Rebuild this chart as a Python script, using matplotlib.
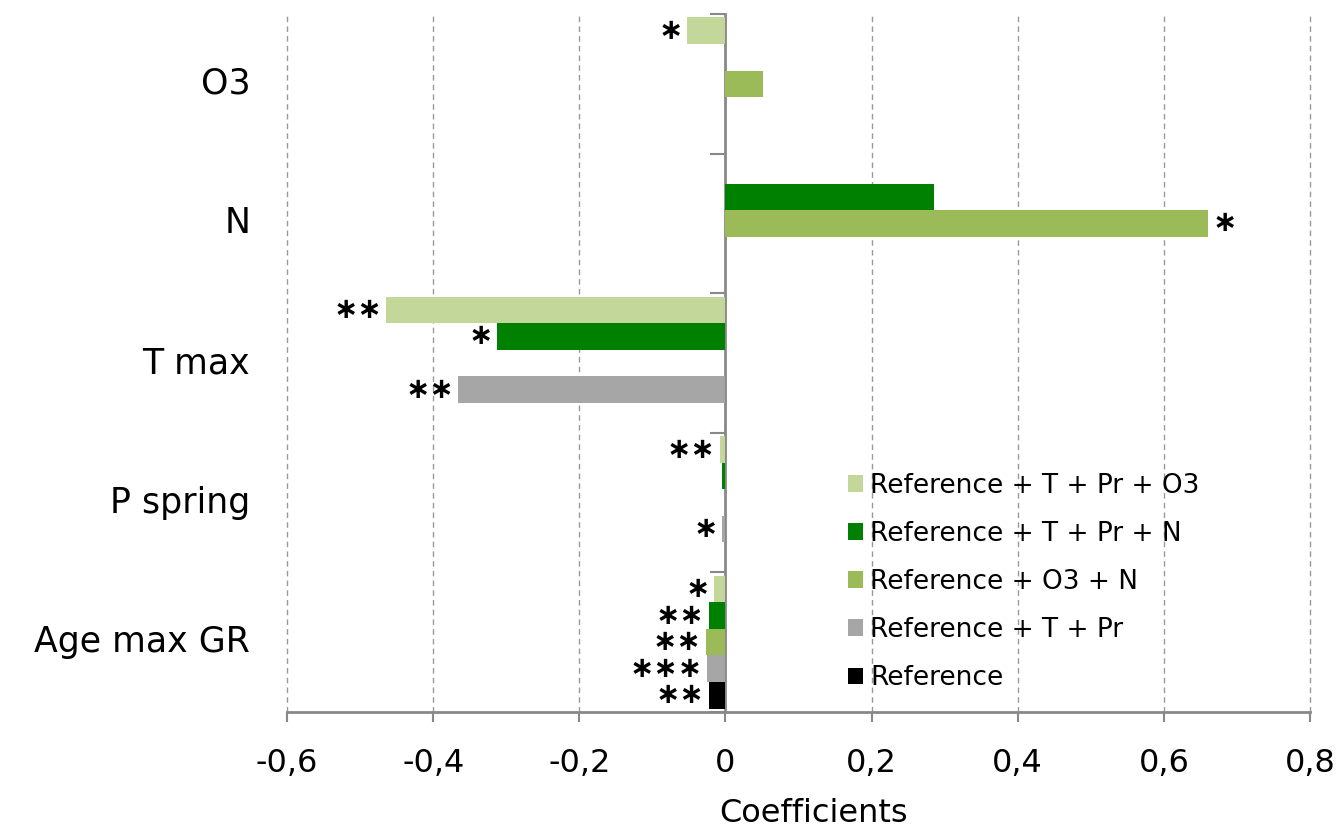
import numpy as np
import matplotlib
matplotlib.use("Agg")
import matplotlib.pyplot as plt
from matplotlib.ticker import FuncFormatter

plt.rcParams['font.family'] = ['DejaVu Sans']

categories = ["O3", "N", "T max", "P spring", "Age max GR"]
series = ["Reference + T + Pr + O3", "Reference + T + Pr + N",
          "Reference + O3 + N", "Reference + T + Pr", "Reference"]
colors = ["#c4d79b", "#008000", "#9bbb59", "#a6a6a6", "#000000"]

nan = np.nan
ref_t_pr_o3 = [-0.052, nan, -0.464, -0.008, -0.015]
ref_t_pr_n = [nan, 0.285, -0.312, -0.005, -0.023]
ref_o3_n = [0.051, 0.661, nan, nan, -0.027]
ref_t_pr = [nan, nan, -0.366, -0.005, -0.025]
ref = [nan, nan, nan, nan, -0.023]
values = [ref_t_pr_o3, ref_t_pr_n, ref_o3_n, ref_t_pr, ref]

stars_t_pr_o3 = ["*", "", "**", "**", "*"]
stars_t_pr_n = ["", "", "*", "", "**"]
stars_o3_n = ["", "*", "", "", "**"]
stars_t_pr = ["", "", "**", "*", "***"]
stars_ref = ["", "", "", "", "**"]
stars = [stars_t_pr_o3, stars_t_pr_n, stars_o3_n, stars_t_pr, stars_ref]

fig = plt.figure(figsize=(13.4, 8.32), dpi=100)
ax = fig.add_axes([0.2142, 0.1442, 0.7634, 0.839])

bar_h = 0.19
y = np.arange(len(categories))
for i, (name, vals, col, st) in enumerate(zip(series, values, colors, stars)):
    pos = y + (i - 2) * bar_h
    v = np.array(vals, dtype=float)
    ax.barh(pos, np.nan_to_num(v), height=bar_h, color=col, label=name, zorder=3)
    for p, val, s in zip(pos, v, st):
        if s and not np.isnan(val):
            off = -3 if val < 0 else 3
            # math asterisk sits on the middle of the line
            ax.annotate(s.replace("*", "\u2217"), (val, p), xytext=(off, 0),
                        textcoords='offset points',
                        ha='right' if val < 0 else 'left', va='center',
                        fontsize=21, fontweight='bold', zorder=4)

ax.set_xlim(-0.6, 0.8)
ax.set_ylim(4.5, -0.5)
ax.set_xticks(np.arange(-0.6, 0.81, 0.2))
ax.xaxis.set_major_formatter(FuncFormatter(
    lambda x, _: "0" if abs(x) < 1e-9 else f"{x:.1f}".replace(".", ",")))
ax.tick_params(axis='x', direction='out', length=7, width=1.5, color='#888888',
               labelsize=23, pad=19)

# category axis drawn at zero
ax.spines['left'].set_position(('data', 0))
ax.spines['left'].set_color('#888888')
ax.spines['left'].set_linewidth(2)
ax.spines['bottom'].set_color('#888888')
ax.spines['bottom'].set_linewidth(2)
ax.spines['top'].set_visible(False)
ax.spines['right'].set_visible(False)
ax.set_yticks(np.arange(-0.5, 4.6, 1.0))
ax.set_yticklabels([])
ax.tick_params(axis='y', direction='out', length=11, width=1.5, color='#888888')

for k, c in enumerate(categories):
    ax.text(-0.036, k, c, transform=ax.get_yaxis_transform(),
            ha='right', va='center', fontsize=25)

for gx in [-0.6, -0.4, -0.2, 0.2, 0.4, 0.6, 0.8]:
    ax.axvline(gx, color='#999999', linestyle=(0, (4, 3)), linewidth=1,
               zorder=1, clip_on=False)

ax.set_xlabel("Coefficients", fontsize=23)
ax.xaxis.set_label_coords(0.515, -0.123)

ax.legend(loc='upper left', bbox_to_anchor=(0.535, 0.362), frameon=False,
          fontsize=19, handlelength=0.6, handleheight=0.6, handletextpad=0.25,
          labelspacing=0.84, borderpad=0)

fig.savefig("out.png", dpi=100)
